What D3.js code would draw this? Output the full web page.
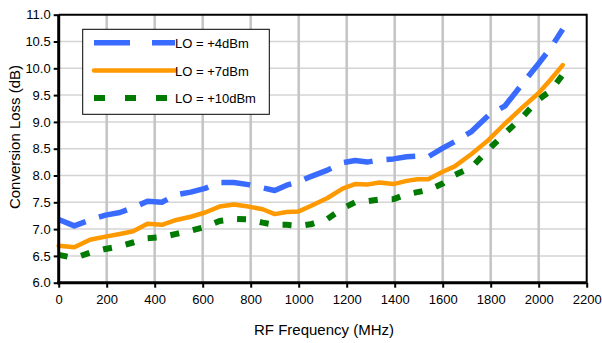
<!DOCTYPE html>
<html><head><meta charset="utf-8">
<script src="https://cdn.jsdelivr.net/npm/d3@7"></script>
<style>body{margin:0;background:#fff}svg{display:block}text{font-family:"Liberation Sans",Arial,sans-serif;fill:#000}</style>
</head><body><svg id="c" width="602" height="343"></svg>
<script>
const freqs = [0,65,130,195,255,310,370,430,490,550,610,670,730,790,850,900,950,1000,1050,1120,1185,1235,1285,1335,1395,1450,1495,1540,1600,1650,1720,1790,1860,1930,2000,2050,2100];
const lo4 = [7.18,7.06,7.17,7.26,7.31,7.40,7.52,7.50,7.64,7.69,7.76,7.87,7.87,7.83,7.77,7.72,7.82,7.88,7.98,8.10,8.24,8.28,8.25,8.29,8.31,8.35,8.36,8.35,8.51,8.63,8.82,9.12,9.30,9.70,10.09,10.38,10.73];
const lo7 = [6.69,6.66,6.80,6.86,6.91,6.96,7.10,7.08,7.17,7.23,7.31,7.42,7.46,7.42,7.37,7.28,7.32,7.33,7.43,7.58,7.76,7.84,7.83,7.87,7.84,7.90,7.93,7.93,8.07,8.17,8.40,8.66,8.97,9.26,9.54,9.79,10.06];
const lo10 = [6.52,6.46,6.56,6.63,6.68,6.75,6.83,6.85,6.91,6.97,7.04,7.15,7.19,7.18,7.12,7.08,7.08,7.06,7.09,7.19,7.39,7.50,7.52,7.55,7.56,7.65,7.69,7.73,7.85,8.01,8.15,8.48,8.79,9.08,9.42,9.58,9.88];
const seriesNames = ["LO = +4dBm","LO = +7dBm","LO = +10dBm"];
const xTicks = [0,200,400,600,800,1000,1200,1400,1600,1800,2000,2200];
const yTicks = [6.0,6.5,7.0,7.5,8.0,8.5,9.0,9.5,10.0,10.5,11.0];
const xTitle = "RF Frequency (MHz)";
const yTitle = "Conversion Loss (dB)";

const L=58.7, R=586.7, T=14.7, B=282.7;
const svg=d3.select("#c");
const x=d3.scaleLinear().domain([0,2200]).range([L,R]);
const y=d3.scaleLinear().domain([6,11]).range([B,T]);

// grid
svg.append("g").selectAll("line").data(yTicks.slice(1,-1)).join("line")
  .attr("x1",L).attr("x2",R).attr("y1",d=>y(d)).attr("y2",d=>y(d))
  .attr("stroke","#d4d4d4").attr("stroke-width",1.5);
svg.append("g").selectAll("line").data(xTicks.slice(1,-1)).join("line")
  .attr("y1",T).attr("y2",B).attr("x1",d=>x(d)).attr("x2",d=>x(d))
  .attr("stroke","#c4c4c4").attr("stroke-width",2.5);
// frame top/right
svg.append("path").attr("d",`M${L},${T}H${R}V${B}`).attr("fill","none").attr("stroke","#000").attr("stroke-width",2);

const series=[
 {v:lo4,color:"#3a6bff",w:5.5,dash:"29,14"},
 {v:lo7,color:"#ff9900",w:4.5,dash:null},
 {v:lo10,color:"#007a00",w:6,dash:"9,14"}
];
const line=d3.line().x(d=>x(d[0])).y(d=>y(d[1]));
// draw order: green, orange, blue
[2,1,0].forEach(i=>{
  const s=series[i];
  svg.append("path").datum(freqs.map((f,j)=>[f,s.v[j]]))
    .attr("d",line).attr("fill","none").attr("stroke",s.color).attr("stroke-width",s.w)
    .attr("stroke-linejoin","round").attr("stroke-linecap",s.dash?"butt":"round")
    .attr("stroke-dasharray",s.dash);
});

// axes
const ya=svg.append("g").attr("transform",`translate(${L},0)`)
  .call(d3.axisLeft(y).tickValues(yTicks).tickFormat(d3.format(".1f")).tickSize(5).tickPadding(3));
const xa=svg.append("g").attr("transform",`translate(0,${B})`)
  .call(d3.axisBottom(x).tickValues(xTicks).tickFormat(d3.format("d")).tickSize(5).tickPadding(7));
[ya,xa].forEach(a=>{
  a.select(".domain").attr("stroke","#000").attr("stroke-width",3);
  a.selectAll(".tick line").attr("stroke","#000").attr("stroke-width",2);
  a.selectAll("text").attr("font-size",13).attr("font-family","Liberation Sans, Arial, sans-serif").attr("fill","#000");
});
ya.select(".domain").attr("d",`M0,${B+1.5}V${T}`);
xa.select(".domain").attr("d",`M${L-1.5},0H${R}`);

svg.append("text").attr("x",324).attr("y",335).attr("text-anchor","middle").attr("font-size",15).text(xTitle);
svg.append("text").attr("transform","translate(20,137) rotate(-90)").attr("text-anchor","middle").attr("font-size",15).text(yTitle);

// legend
const lg=svg.append("g");
lg.append("rect").attr("x",82.7).attr("y",29.3).attr("width",186.6).attr("height",85).attr("fill","#fff").attr("stroke","#000").attr("stroke-width",1);
const ly=[42.7,70.5,98];
const ldash=["36,22","","11,20"];
seriesNames.forEach((n,i)=>{
  const s=series[i];
  lg.append("line").attr("x1",94).attr("x2",175).attr("y1",ly[i]).attr("y2",ly[i])
    .attr("stroke",s.color).attr("stroke-width",s.w).attr("stroke-linecap",s.dash?"butt":"round")
    .attr("stroke-dasharray",ldash[i]||null);
  lg.append("text").attr("x",175).attr("y",ly[i]+5).attr("font-size",13).text(n);
});
</script></body></html>
